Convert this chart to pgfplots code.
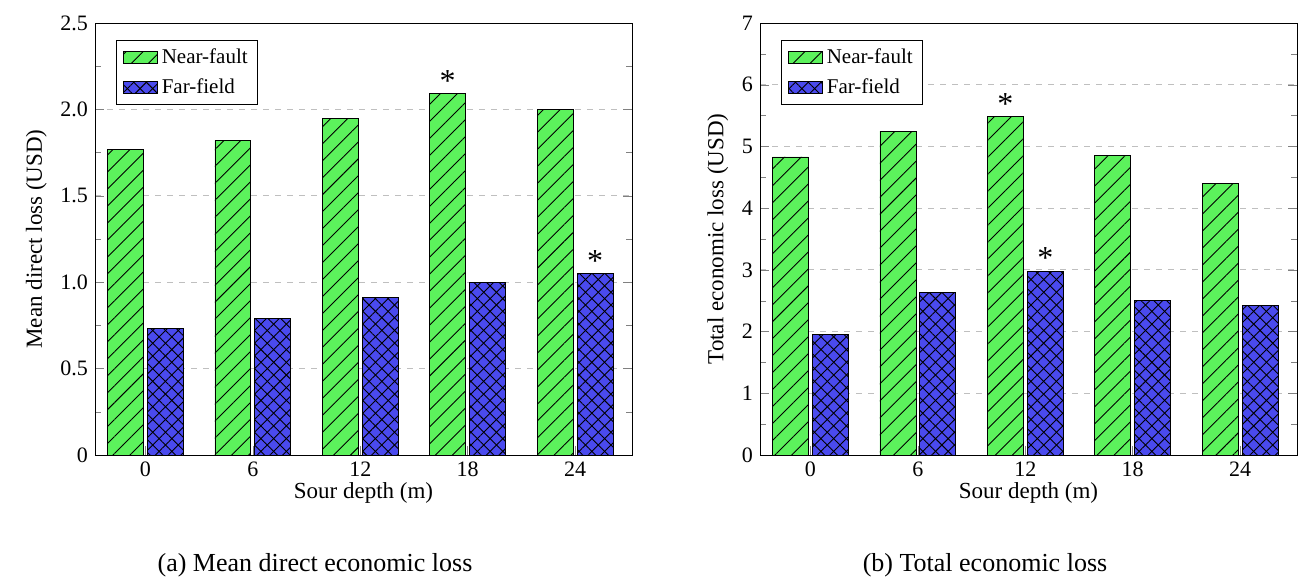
\documentclass[border=0pt]{standalone}
\usepackage{pgfplots}
\pgfplotsset{compat=1.18}
\usepackage{fontspec}
\setmainfont{Liberation Serif}
\usetikzlibrary{patterns.meta}
\definecolor{gr}{HTML}{5CF25C}
\definecolor{bl}{HTML}{4A4AEE}
\pgfplotsset{
  common/.style={
    scale only axis, width=268.5pt, height=216pt,
    xmin=-0.47, xmax=4.53, ymin=0,
    xtick={0,1,2,3,4}, xticklabels={0,6,12,18,24},
    tick align=inside, ytick pos=both, xtick pos=bottom,
    minor y tick num=1,
    ymajorgrids, grid style={dashed,gray!50},
    tick label style={font=\fontsize{11}{12}\selectfont},
    label style={font=\fontsize{11.5}{13}\selectfont},
    xlabel={Sour depth (m)},
    xlabel style={yshift=4pt},
    /pgf/number format/assume math mode=true,
    legend style={at={(0.04,0.96)},anchor=north west,font=\fontsize{10.5}{12}\selectfont,draw=black,row sep=2pt},
    legend cell align=left,
    area legend,
  },
  nf/.style={ybar, bar width=0.335, bar shift=-0.186, draw=black, fill=gr, postaction={pattern={Lines[angle=45,distance=6pt,line width=0.45pt]}}},
  ff/.style={ybar, bar width=0.335, bar shift=0.186, draw=black, fill=bl, postaction={pattern={Lines[angle=45,distance=4.5pt,line width=0.45pt]}}, postaction={pattern={Lines[angle=-45,distance=4.5pt,line width=0.45pt]}}},
}
\begin{document}
\begin{tikzpicture}[x=1pt,y=1pt]
\begin{axis}[common, at={(47.5pt,65pt)}, ymax=2.5,
  ytick={0,0.5,1,1.5,2,2.5}, yticklabels={0,0.5,1.0,1.5,2.0,2.5},
  ylabel={Mean direct loss (USD)}]
\addplot[nf] coordinates {(0,1.77)(1,1.82)(2,1.95)(3,2.09)(4,2.00)};
\addplot[ff] coordinates {(0,0.73)(1,0.79)(2,0.91)(3,1.00)(4,1.05)};
\legend{Near-fault,Far-field}
\node[anchor=south west,font=\fontsize{10.5}{11}\selectfont,inner sep=1pt] at (rel axis cs:0,1) {$\times$10$^7$};
\node[anchor=south,font=\fontsize{16}{16}\selectfont,inner sep=1pt] at (axis cs:2.814,2.09) {*};
\node[anchor=south,font=\fontsize{16}{16}\selectfont,inner sep=1pt] at (axis cs:4.186,1.05) {*};
\end{axis}
\begin{axis}[common, at={(380pt,65pt)}, ymax=7,
  ytick={0,1,...,7},
  ylabel={Total economic loss (USD)}]
\addplot[nf] coordinates {(0,4.83)(1,5.25)(2,5.48)(3,4.85)(4,4.40)};
\addplot[ff] coordinates {(0,1.96)(1,2.63)(2,2.98)(3,2.50)(4,2.42)};
\legend{Near-fault,Far-field}
\node[anchor=south west,font=\fontsize{10.5}{11}\selectfont,inner sep=1pt] at (rel axis cs:0,1) {$\times$10$^7$};
\node[anchor=south,font=\fontsize{16}{16}\selectfont,inner sep=1pt] at (axis cs:1.814,5.48) {*};
\node[anchor=south,font=\fontsize{16}{16}\selectfont,inner sep=1pt] at (axis cs:2.186,2.98) {*};
\end{axis}
\node[font=\fontsize{13}{14}\selectfont] at (157.5pt,10pt) {(a) Mean direct economic loss};
\node[font=\fontsize{13}{14}\selectfont] at (492.5pt,10pt) {(b) Total economic loss};
\path (0,0) rectangle (655.5pt,292.5pt);
\end{tikzpicture}
\end{document}
